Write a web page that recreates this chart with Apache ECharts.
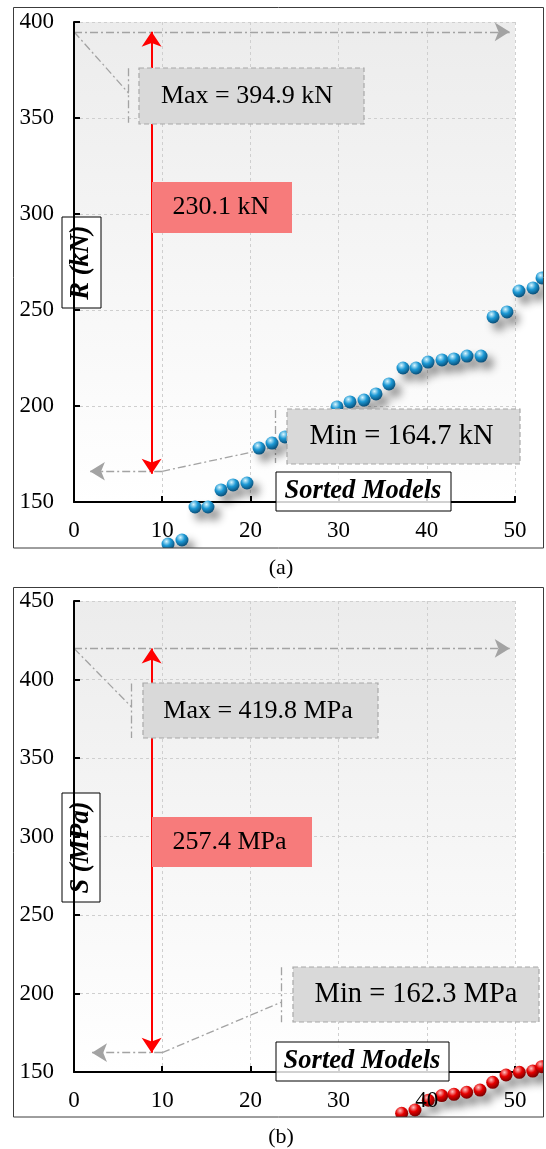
<!DOCTYPE html>
<html><head><meta charset="utf-8">
<script src="https://cdn.jsdelivr.net/npm/echarts@6/dist/echarts.min.js"></script>
<style>html,body{margin:0;padding:0;background:#fff}#c{width:546px;height:1149px}</style>
</head><body><div id="c"></div>
<script>
// ---------- data ----------
const modelsA = [10.66,12.24,13.72,15.19,16.67,18.03,19.61,20.98,22.45,23.92,29.82,31.29,32.88,34.24,35.71,37.30,38.78,40.14,41.72,43.08,44.56,46.15,47.51,49.09,50.45,52.04,53.06];
const valuesA = [128.1,130.2,147.4,147.4,156.3,158.9,159.9,178.1,180.7,183.9,199.5,202.1,203.1,206.3,211.5,219.8,219.8,222.9,224.0,224.5,226.0,226.0,246.4,249.0,259.9,261.5,266.7];
const modelsB = [37.15,38.66,40.17,41.69,43.08,44.52,46.03,47.47,48.98,50.49,52.01,53.03];
const valuesB = [123.7,125.8,132.0,135.0,135.8,137.1,138.5,143.4,148.1,149.8,150.6,153.4];
const xTicks = [0,10,20,30,40,50];
const yTicksA = [150,200,250,300,350,400];
const yTicksB = [150,200,250,300,350,400,450];
const maxVals = [394.9, 419.8];
const minVals = [164.7, 162.3];
const rangeVals = [230.1, 257.4];
const units = ['kN', 'MPa'];
const yTitles = ['R (kN)', 'S (MPa)'];
const captions = ['(a)', '(b)'];
const xTitle = 'Sorted Models';

// ---------- layout ----------
const SERIF = '"Liberation Serif","Times New Roman",serif';
const P = [
  {left:74, top:22, width:441, height:480, right:543, bottom:548, yT:yTicksA},
  {left:74, top:601, width:441, height:471, right:543, bottom:1117, yT:yTicksB}
];
const GRAY = '#a3a3a3';
const DASHDOT = [8,3,2,3];

const grids = [], xAxes = [], yAxes = [], series = [];
P.forEach((p, k) => {
  const xMin = xTicks[0], xMax = xTicks[xTicks.length-1], xInt = xTicks[1]-xTicks[0];
  const yMin = p.yT[0], yMax = p.yT[p.yT.length-1], yInt = p.yT[1]-p.yT[0];
  const xMaxData = xMin + (xMax - xMin) * (p.right - p.left) / p.width;
  const yMinData = yMax - (yMax - yMin) * (p.bottom - p.top) / p.height;
  const g0 = grids.length;
  grids.push({left:p.left, top:p.top, width:p.width, height:p.height, show:true, borderWidth:0,
    backgroundColor: new echarts.graphic.LinearGradient(0,0,0,1,[{offset:0,color:'#ececec'},{offset:1,color:'#ffffff'}])});
  grids.push({left:p.left, top:p.top, width:p.right-p.left, height:p.bottom-p.top, show:false});
  const xb = xAxes.length, yb = yAxes.length;
  // x lines / ticks / splitlines
  xAxes.push({type:'value', gridIndex:g0, min:xMin, max:xMax, interval:xInt, z:1,
    axisLine:{show:true, onZero:false, lineStyle:{color:'#000', width:2}},
    axisTick:{show:true, inside:true, length:6, lineStyle:{color:'#000', width:2}},
    axisLabel:{show:false},
    splitLine:{show:true, lineStyle:{color:'#cfcfcf', width:1, type:[3,3]}}});
  // x labels
  xAxes.push({type:'value', gridIndex:g0, min:xMin, max:xMax, interval:xInt, z:20, position:'bottom',
    axisLine:{show:false}, axisTick:{show:false}, splitLine:{show:false},
    axisLabel:{show:true, margin:17, color:'#000', fontSize:23, fontFamily:SERIF}});
  // data x
  xAxes.push({type:'value', gridIndex:g0+1, min:xMin, max:xMaxData, show:false});
  // y split
  yAxes.push({type:'value', gridIndex:g0, min:yMin, max:yMax, interval:yInt, z:1, position:'left',
    axisLine:{show:false}, axisTick:{show:false}, axisLabel:{show:false},
    splitLine:{show:true, lineStyle:{color:'#cfcfcf', width:1, type:[3,3]}}});
  // y line + labels
  yAxes.push({type:'value', gridIndex:g0, min:yMin, max:yMax, interval:yInt, z:5, position:'left',
    axisLine:{show:true, onZero:false, lineStyle:{color:'#000', width:2}},
    axisTick:{show:true, inside:true, length:6, lineStyle:{color:'#000', width:2}},
    axisLabel:{show:true, margin:20, color:'#000', fontSize:23, fontFamily:SERIF},
    splitLine:{show:false}});
  // data y
  yAxes.push({type:'value', gridIndex:g0+1, min:yMinData, max:yMax, show:false});
});

function sphere(colors) {
  return function (params, api) {
    const c = api.coord([api.value(0), api.value(1)]);
    return {
      type:'circle', shape:{cx:c[0], cy:c[1], r:6.5},
      style:{
        fill: new echarts.graphic.RadialGradient(0.38, 0.3, 0.75, [
          {offset:0, color:colors[0]}, {offset:0.45, color:colors[1]}, {offset:1, color:colors[2]}]),
        shadowBlur:8, shadowOffsetX:6, shadowOffsetY:7, shadowColor:'rgba(0,0,0,0.45)'
      }
    };
  };
}

function gl(a, b, arrow) {
  return [{coord:a, symbol:'none', lineStyle:{color:GRAY, width:1.3, type:DASHDOT}},
          {coord:b, symbol: arrow ? 'arrow' : 'none', symbolSize:[14,15]}];
}
function redArrow(x, y1, y2) {
  return [{coord:[x,y1], symbol:'arrow', symbolSize:[15,15], lineStyle:{color:'#ff0000', width:2, type:'solid'}},
          {coord:[x,y2], symbol:'arrow', symbolSize:[15,15]}];
}

// annotation geometry (data units)
const ann = [
  {maxEnd:49.4, dX:6.2, dY:362.9, vTop:375.9, vBot:347.5, arrowX:8.8, minLineY:166, minTip:1.8, bendX:10, minDX:22.8, minDY:178.6, mvTop:197.9, mvBot:170.3},
  {maxEnd:49.4, dX:6.54, dY:382.4, vTop:397.5, vBot:362.7, arrowX:8.8, minLineY:162.3, minTip:2.04, bendX:10, minDX:23.47, minDY:194.4, mvTop:216.7, mvBot:181.7}
];

const ptsA = modelsA.map((x,i)=>[x, valuesA[i]]);
const ptsB = modelsB.map((x,i)=>[x, valuesB[i]]);
[ptsA, ptsB].forEach((pts, k) => {
  const xi = k*3+2, yi = k*3+2;
  series.push({type:'custom', xAxisIndex:xi, yAxisIndex:yi, data:pts, clip:true, z:6, silent:true,
    renderItem: sphere(k===0 ? ['#d8f6ff','#1c98d4','#07466e'] : ['#ffc0c0','#e60000','#6e0000'])});
  const a = ann[k], mx = maxVals[k], mn = minVals[k];
  series.push({type:'line', xAxisIndex:xi, yAxisIndex:yi, data:[], z:12, silent:true, clip:false,
    markLine:{silent:true, animation:false, label:{show:false}, emphasis:{disabled:true},
      data:[
        gl([0,mx],[a.maxEnd,mx],true),
        gl([0,mx],[a.dX,a.dY],false),
        gl([a.dX,a.vTop],[a.dX,a.vBot],false),
        gl([a.bendX,a.minLineY],[a.minTip,a.minLineY],true),
        gl([a.bendX,a.minLineY],[a.minDX,a.minDY],false),
        gl([a.minDX,a.mvTop],[a.minDX,a.mvBot],false),
        redArrow(a.arrowX, mx, mn)
      ]}});
});

// ---------- graphic (boxes, frames, captions) ----------
const boxes = [
  {frame:[13.5,7.5,530,540.5], cap:[281,568],
   title:[62,217,39,91], maxBox:[139,68,225,56], maxTxt:[247,96], redBox:[152,182,140,51], redTxt:[221,207.5],
   minBox:[287,409,233,55], minTxt:[401.5,436.5], sm:[276,472,175,39], smTxt:[363,491.5]},
  {frame:[13.5,587.5,530,529.5], cap:[281,1137],
   title:[62,793,38,109], maxBox:[143,683,235,55], maxTxt:[258,711], redBox:[152,817,160,50], redTxt:[229.5,842],
   minBox:[293,967,246,55], minTxt:[416,994.5], sm:[276,1042,173,39], smTxt:[362,1061.5]}
];
function fmt(v){ return v.toFixed(1); }
const graphic = [];
boxes.forEach((b, k) => {
  const rect = (r, style, z) => ({type:'rect', silent:true, z:z, shape:{x:r[0], y:r[1], width:r[2], height:r[3]}, style:style});
  const text = (pt, t, size, z, extra) => ({type:'text', silent:true, z:z, x:pt[0], y:pt[1],
    style:Object.assign({text:t, fill:'#000', fontSize:size, fontFamily:SERIF, align:'center', verticalAlign:'middle', textAlign:'center', textVerticalAlign:'middle'}, extra||{})});
  graphic.push(rect(b.frame, {fill:'none', stroke:'#3c3c3c', lineWidth:1}, 30));
  graphic.push(text(b.cap, captions[k], 22, 30));
  // y title
  graphic.push(rect(b.title, {fill:'#fff', stroke:'#000', lineWidth:1}, 4));
  graphic.push(Object.assign(text([b.title[0]+b.title[2]/2, b.title[1]+b.title[3]/2], yTitles[k], 26.5, 4, {fontStyle:'italic', fontWeight:'bold'}), {rotation:Math.PI/2}));
  // max box
  graphic.push(rect(b.maxBox, {fill:'#d9d9d9', stroke:'#a8a8a8', lineWidth:1.2, lineDash:[5,3]}, 10));
  graphic.push(text(b.maxTxt, 'Max = ' + fmt(maxVals[k]) + ' ' + units[k], 26, 10));
  // range box
  graphic.push(rect(b.redBox, {fill:'#f77b7b'}, 10));
  graphic.push(text(b.redTxt, fmt(rangeVals[k]) + ' ' + units[k], 26, 10));
  // min box
  graphic.push(rect(b.minBox, {fill:'#d9d9d9', stroke:'#a8a8a8', lineWidth:1.2, lineDash:[5,3]}, 10));
  graphic.push(text(b.minTxt, 'Min = ' + fmt(minVals[k]) + ' ' + units[k], 28.5, 10));
  // x title
  graphic.push(rect(b.sm, {fill:'rgba(255,255,255,0.82)', stroke:'#000', lineWidth:1}, 10));
  graphic.push(text(b.smTxt, xTitle, 26.5, 10, {fontStyle:'italic', fontWeight:'bold'}));
});

const chart = echarts.init(document.getElementById('c'), null, {renderer:'canvas', width:546, height:1149});
chart.setOption({
  animation:false,
  backgroundColor:'#fff',
  grid:grids, xAxis:xAxes, yAxis:yAxes, series:series, graphic:graphic
});
</script></body></html>
